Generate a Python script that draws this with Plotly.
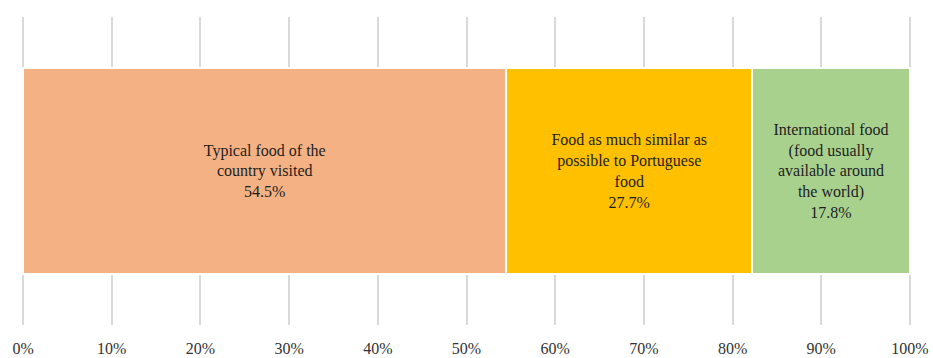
import plotly.graph_objects as go

categories = [
    "Typical food of the<br>country visited",
    "Food as much similar as<br>possible to Portuguese<br>food",
    "International food<br>(food usually<br>available around<br>the world)",
]
values = [54.5, 27.7, 17.8]
colors = ["#F4B183", "#FFC000", "#A9D18E"]
tick_vals = [0, 10, 20, 30, 40, 50, 60, 70, 80, 90, 100]
tick_text = [f"{v}%" for v in tick_vals]

fig = go.Figure()
for cat, val, col in zip(categories, values, colors):
    fig.add_trace(go.Bar(
        x=[val], y=["row"], orientation="h",
        marker=dict(color=col, line=dict(color="white", width=2)),
        text=[f"{cat}<br>{val}%"],
        textposition="inside", insidetextanchor="middle",
        textangle=0, constraintext="none",
        textfont=dict(family="Liberation Serif", size=16, color="#1E1E1E"),
        hoverinfo="skip", showlegend=False,
    ))

fig.update_layout(
    barmode="stack", bargap=0.333,
    width=933, height=358,
    margin=dict(l=22, r=22, t=17, b=33),
    paper_bgcolor="white", plot_bgcolor="white",
    font=dict(family="Liberation Serif", size=16, color="#333333"),
    xaxis=dict(range=[-0.12, 100.12], tickvals=tick_vals, ticktext=tick_text,
               showgrid=True, gridcolor="#D9D9D9", gridwidth=1.5,
               zeroline=False, showline=False, ticks="",
               ticklabelstandoff=12, automargin=False, fixedrange=True),
    yaxis=dict(showticklabels=False, showgrid=False, zeroline=False,
               range=[-0.5, 0.5], fixedrange=True, automargin=False),
)
fig.write_html("out.html")
